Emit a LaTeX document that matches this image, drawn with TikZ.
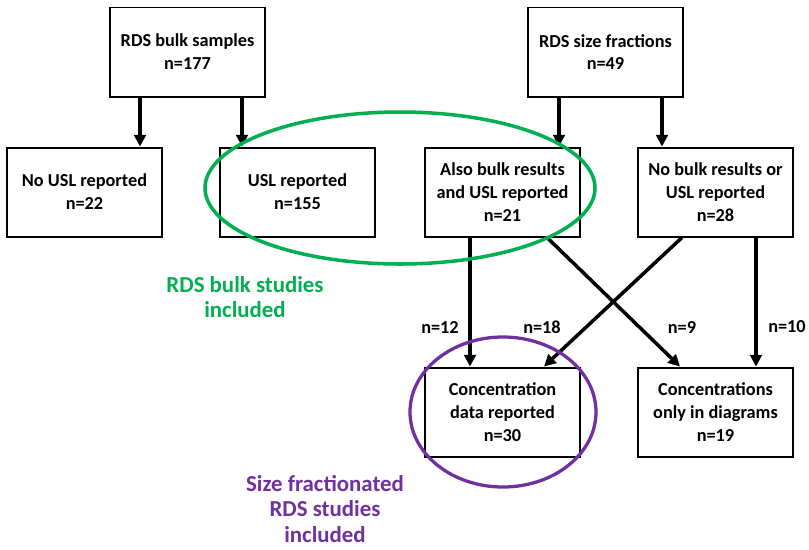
\documentclass[tikz,border=0pt]{standalone}
\usepackage{fontspec}
\setmainfont{Carlito}
\usetikzlibrary{calc,arrows.meta,positioning}
\definecolor{incgreen}{RGB}{0,176,80}
\definecolor{incpurple}{RGB}{112,48,160}

\begin{document}
\begin{tikzpicture}[x=0.03cm, y=-0.03cm,
    every node/.style={font=\fontsize{15.6}{19.5}\selectfont\bfseries},
    box/.style={draw, line width=1.7pt, fill=white, minimum width=4.65cm, minimum height=2.67cm, align=center, inner sep=0pt},
    flow/.style={line width=3pt, -{Triangle[length=10pt,width=10pt]}},
    note/.style={font=\fontsize{19.5}{21.5}\selectfont\bfseries, align=center, inner sep=1pt}]

\useasboundingbox (0,0) rectangle (809,549);

% Sources
\node[box] (bulk) at (187.5, 52) {RDS bulk samples\\n=177};
\node[box] (size) at (605.5, 52) {RDS size fractions\\n=49};

% Second row
\node[box] (nousl) at (84.5, 192) {No USL reported\\n=22};
\node[box] (usl) at (297.5, 192) {USL reported\\n=155};
\node[box] (also) at (502.5, 192) {Also bulk results\\and USL reported\\n=21};
\node[box] (nobulk) at (715.5, 192) {No bulk results or\\USL reported\\n=28};

% Third row
\node[box] (conc) at (502.5, 412) {Concentration\\data reported\\n=30};
\node[box] (diag) at (715.5, 412) {Concentrations\\only in diagrams\\n=19};

% Arrows
\draw[flow] ([xshift=-1.425cm]bulk.south) -- ([xshift=-1.425cm]bulk.south |- nousl.north);
\draw[flow] ([xshift=1.635cm]bulk.south) -- ([xshift=1.635cm]bulk.south |- usl.north);
\draw[flow] ([xshift=-1.395cm]size.south) -- ([xshift=-1.395cm]size.south |- also.north);
\draw[flow] ([xshift=1.695cm]size.south) -- ([xshift=1.695cm]size.south |- nobulk.north);
\draw[flow] ([xshift=-0.975cm]also.south) -- ([xshift=-0.975cm]also.south |- conc.north);
\draw[flow] ([xshift=1.215cm]nobulk.south) -- ([xshift=1.215cm]nobulk.south |- diag.north);
\draw[flow] ([xshift=1.335cm]also.south) -- ([xshift=-1.065cm]diag.north);
\draw[flow] ([xshift=-1.005cm]nobulk.south) -- ([xshift=1.245cm]conc.north);

% Counts
\node (n12) at (440, 327) {n=12};
\node (n18) at (542, 327) {n=18};
\node (n9) at (682, 327) {n=9};
\node (n10) at (787, 327) {n=10};

% Inclusion marks
\draw[incgreen, line width=3pt] (400, 188) ellipse [x radius=195, y radius=76];
\draw[incpurple, line width=2.8pt] (503, 412) ellipse [x radius=93, y radius=75];

\node[note, text=incgreen] (bulkinc) at (245, 297) {RDS bulk studies\\included};
\node[note, text=incpurple] (sizeinc) at (325, 509) {Size fractionated\\RDS studies\\included};

\end{tikzpicture}
\end{document}
